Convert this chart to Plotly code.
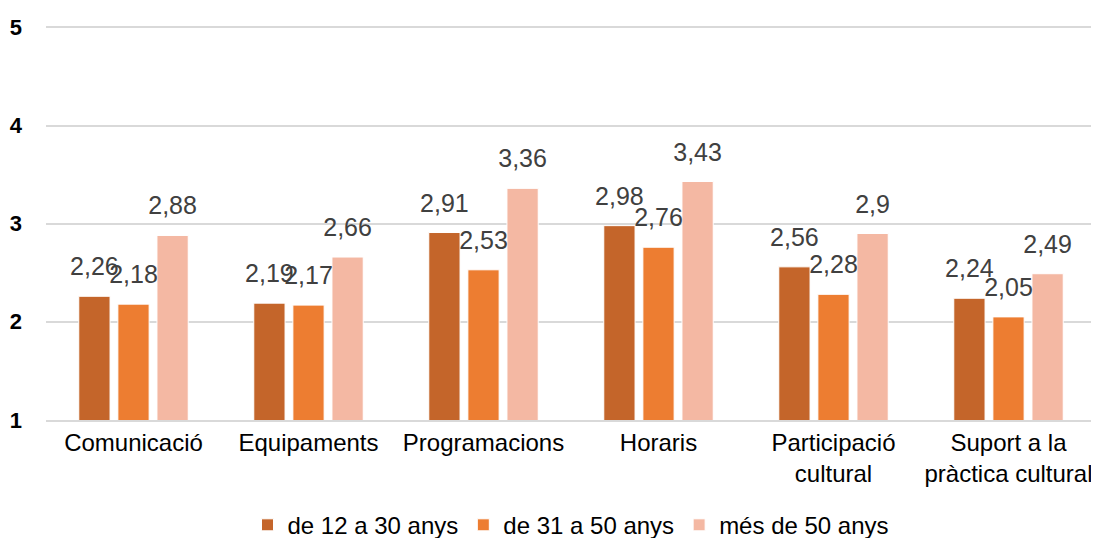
import plotly.graph_objects as go

categories = ["Comunicació", "Equipaments", "Programacions", "Horaris",
              "Participació<br>cultural", "Suport a la<br>pràctica cultural"]
series_names = ["de 12 a 30 anys", "de 31 a 50 anys", "més de 50 anys"]
v_12_30 = [2.26, 2.19, 2.91, 2.98, 2.56, 2.24]
v_31_50 = [2.18, 2.17, 2.53, 2.76, 2.28, 2.05]
v_50 = [2.88, 2.66, 3.36, 3.43, 2.90, 2.49]
colors = ["#C4652A", "#ED7D31", "#F4B8A3"]
y_ticks = [1, 2, 3, 4, 5]

def fmt(v):
    s = ("%.2f" % v).rstrip("0").rstrip(".")
    return s.replace(".", ",")

FONT = "Liberation Sans, Arial"

fig = go.Figure()
for i, (name, vals, col) in enumerate(zip(series_names, [v_12_30, v_31_50, v_50], colors)):
    fig.add_trace(go.Bar(
        x=categories, y=vals, name=name, offsetgroup=str(i),
        marker=dict(color=col, line=dict(color="white", width=1)),
    ))
for i, vals in enumerate([v_12_30, v_31_50, v_50]):
    fig.add_trace(go.Scatter(
        x=categories, y=vals, offsetgroup=str(i), mode="markers+text",
        marker=dict(size=22, opacity=0), text=[fmt(v) for v in vals],
        textposition="top center", showlegend=False, hoverinfo="skip",
        textfont=dict(family=FONT, size=25, color="#404040"), cliponaxis=False,
    ))

fig.update_layout(
    width=1091, height=530,
    margin=dict(l=38, r=3, t=18, b=118, autoexpand=False),
    paper_bgcolor="white", plot_bgcolor="white",
    barmode="group", bargap=0.33, bargroupgap=0.2,
    scattermode="group", scattergap=0.33,
    font=dict(family=FONT, color="#000000"),
    showlegend=True,
    legend=dict(orientation="h", x=0.5, xanchor="center", y=-0.267, yanchor="middle",
                font=dict(size=24, color="#000000"), itemwidth=30,
                traceorder="normal"),
)
fig.update_yaxes(range=[0.999, 5.015], tickvals=y_ticks, showgrid=True, gridcolor="#D9D9D9",
                 gridwidth=1.5, zeroline=False, showline=False, automargin=False,
                 tickfont=dict(size=22, color="#000000", family=FONT, weight="bold"),
                 ticks="", ticklabelstandoff=23)
fig.update_xaxes(showline=True, linecolor="#D9D9D9", linewidth=1.5, automargin=False,
                 tickfont=dict(size=24, color="#000000"), ticks="")

fig.write_html("out.html")
